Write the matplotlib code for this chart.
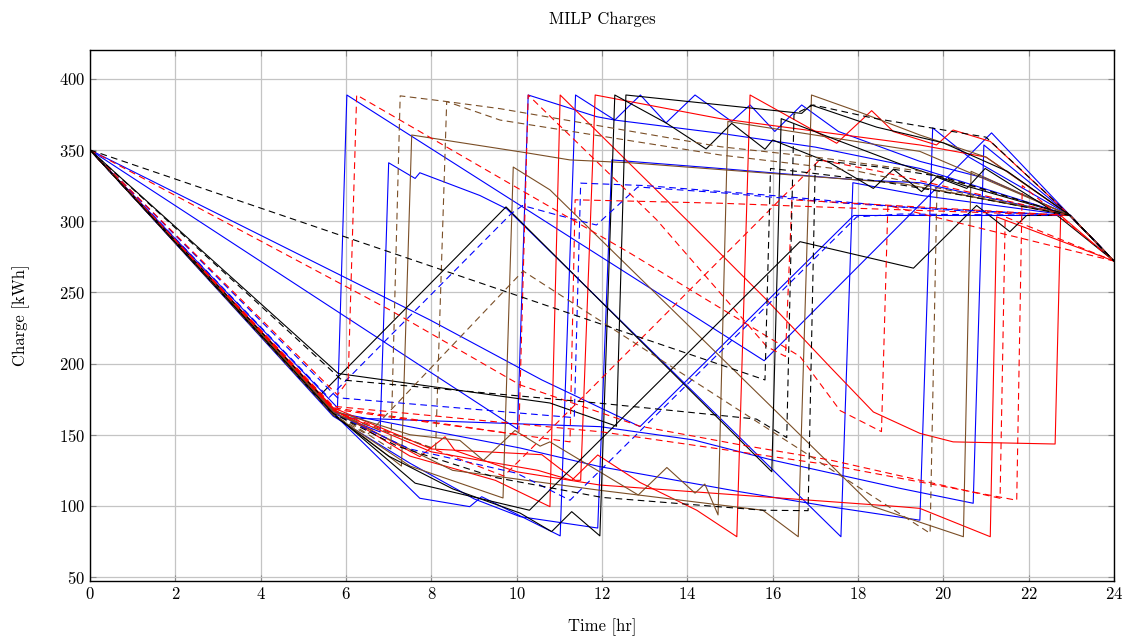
import matplotlib
matplotlib.use("Agg")
import matplotlib.pyplot as plt

plt.rcParams["font.family"] = "serif"
plt.rcParams["font.serif"] = ["cmr10", "DejaVu Serif"]
plt.rcParams["mathtext.fontset"] = "cm"
plt.rcParams["axes.formatter.use_mathtext"] = True

# charge profiles per bus: (time [hr], charge [kWh])
blue_1 = [(0, 350), (5.8, 169), (6.02, 388.6), (15.8, 202), (21.13, 362), (22.97, 304), (24, 272)]
blue_2 = [(0, 350), (5.7, 165), (6.8, 152), (7.0, 341), (7.62, 330), (7.73, 334), (9.14, 318),
          (9.77, 308.6), (17.6, 78.4), (17.88, 327), (19.5, 318), (22.97, 304), (24, 272)]
blue_3 = [(0, 350), (5.7, 165), (7.73, 105.4), (8.9, 99.5), (9.18, 106.5), (11.02, 79), (11.38, 388.6),
          (12.3, 371), (14.77, 361.7), (17.0, 352), (19.45, 337), (22.97, 304), (24, 272)]
blue_4 = [(0, 350), (10.02, 154), (10.27, 388.6), (11.87, 373.4), (12.3, 371), (12.9, 388.6), (13.5, 369),
          (14.18, 388.6), (15.04, 370), (15.47, 381.6), (16.05, 363), (16.68, 381.6), (17.54, 363),
          (19.45, 342), (21.0, 330), (22.97, 304), (24, 272)]
blue_5 = [(0, 350), (5.7, 163), (7.5, 130), (9.0, 105), (10.08, 92.5), (11.9, 84.5), (12.23, 343),
          (14.77, 337), (17.97, 329), (19.45, 327), (22.97, 304), (24, 272)]
blue_6 = [(0, 350), (7.97, 230.6), (10.59, 188.5), (12.89, 155.7), (17.9, 304), (22.97, 304), (24, 272)]
blue_7 = [(0, 350), (5.7, 166), (10.08, 140.7), (11.95, 127.6), (15.23, 110), (17.34, 99.5), (19.45, 90),
          (19.75, 365.5), (20.6, 345), (22.97, 304), (24, 272)]
blue_8 = [(0, 350), (5.9, 162), (11.95, 155.7), (14.14, 146.4), (15.98, 132.3), (18.98, 112.4),
          (20.7, 101.9), (20.95, 353.5), (22.97, 304), (24, 272)]

red_1 = [(0, 350), (5.7, 168), (7.5, 135), (9.5, 118), (10.78, 99.5), (11.02, 388.6), (13.98, 301),
         (15.86, 244.7), (17.34, 197.8), (18.36, 166), (19.45, 151), (20.23, 145), (22.62, 143.5),
         (22.75, 304), (24, 272)]
red_2 = [(0, 350), (5.7, 169), (8.0, 140), (10.59, 136), (11.37, 118), (11.5, 118), (11.84, 388.6),
         (14.77, 372), (19.45, 353.5), (21.0, 345), (22.97, 304), (24, 272)]
red_3 = [(0, 350), (5.7, 167), (8.0, 138), (10.5, 125), (11.29, 118), (11.9, 135.8), (12.89, 116.5),
         (14.22, 97), (15.16, 78.4), (15.47, 388.6), (17.5, 354.7), (18.32, 377.6), (18.83, 362.9),
         (19.84, 353.5), (20.23, 364), (21.1, 356), (22.97, 304), (24, 272)]
red_4 = [(0, 350), (5.7, 168), (7.73, 134.6), (8.32, 148.6), (8.55, 139), (10.0, 124), (11.95, 114.7),
         (18.98, 99.5), (19.45, 98.3), (21.1, 78.4), (21.25, 303), (24, 272)]

brown_1 = [(0, 350), (5.7, 165), (7.3, 128), (7.54, 360.5), (10.23, 348), (11.25, 343), (12.66, 341),
           (18.98, 326.7), (22.97, 304), (24, 272)]
brown_2 = [(0, 350), (5.7, 164), (7.5, 128), (9.68, 105.6), (9.92, 338), (10.78, 322), (18.36, 99.5),
           (20.47, 78.4), (20.65, 335), (22.97, 304), (24, 272)]
brown_3 = [(0, 350), (5.7, 166), (8.5, 125), (11.95, 111), (15.77, 97), (16.6, 78.4), (16.91, 388.6),
           (18.0, 377), (19.45, 360.5), (21.0, 345), (22.97, 304), (24, 272)]
brown_4 = [(0, 350), (5.7, 167), (7.5, 150), (8.67, 146), (9.22, 132), (9.96, 153), (10.55, 142),
           (10.78, 145), (12.85, 107.7), (13.52, 127), (14.18, 109), (14.41, 115.4), (14.72, 93.7),
           (14.95, 370), (19.45, 349), (22.97, 304), (24, 272)]

black_1 = [(0, 350), (5.4, 178), (9.75, 310), (15.98, 124), (16.2, 372), (17.5, 357), (19.0, 340),
           (20.5, 325), (22.97, 304), (24, 272)]
black_2 = [(0, 350), (5.7, 165), (7.62, 116), (10.3, 97), (16.64, 285.6), (19.3, 267), (20.78, 311),
           (21.56, 292.6), (21.95, 304), (22.97, 304), (24, 272)]
black_3 = [(0, 350), (5.7, 164), (7.0, 135), (8.5, 112), (10.08, 95), (10.82, 82), (11.29, 96),
           (11.95, 79), (12.3, 388.6), (13.5, 369), (14.44, 350.7), (15.04, 368.7), (15.82, 350.5),
           (16.0, 357), (17.34, 341), (18.36, 323), (18.83, 336.4), (19.49, 320.7), (19.84, 331),
           (20.55, 323), (20.98, 337), (22.42, 310), (24, 272)]
black_4 = [(0, 350), (5.82, 193), (10.78, 172.3), (12.34, 156), (12.56, 388.6), (16.68, 375.7),
           (16.9, 381.6), (18.44, 366), (20.0, 355), (21.5, 335), (22.97, 304), (24, 272)]

blue_d1 = [(0, 350), (5.6, 176), (9.88, 305.5), (10.14, 311), (10.94, 304.4), (11.87, 297.3),
           (12.84, 324), (14.77, 320), (17.5, 313), (20.0, 308), (22.97, 304), (24, 272)]
blue_d2 = [(0, 350), (5.8, 176), (11.35, 162), (11.5, 326.7), (13.0, 325), (16.0, 318), (19.0, 310),
           (22.97, 304), (24, 272)]
blue_d3 = [(0, 350), (5.7, 165), (7.5, 140), (10.0, 123), (11.25, 104), (17.97, 303), (19.0, 305),
           (22.97, 304), (24, 272)]

red_d1 = [(0, 350), (5.8, 178), (6.05, 188), (6.25, 388.6), (12.66, 277.5), (16.64, 205), (17.58, 167),
          (18.55, 152.2), (18.7, 311), (24, 272)]
red_d2 = [(0, 350), (7.03, 237.6), (10.08, 185), (12.89, 156), (15.23, 143), (17.34, 132.3),
          (21.33, 105.4), (21.45, 303), (24, 272)]
red_d3 = [(0, 350), (5.7, 170), (12.0, 152), (17.34, 128.8), (21.72, 104), (21.85, 325), (24, 272)]
red_d4 = [(0, 350), (5.7, 168), (11.25, 145), (11.37, 315), (14.77, 312.6), (18.0, 309), (22.97, 304),
          (24, 272)]
red_d5 = [(0, 350), (5.7, 167), (9.7, 121), (17.1, 343), (18.5, 335), (22.97, 304), (24, 272)]
red_d6 = [(0, 350), (5.7, 169), (10.05, 150), (10.27, 388.6), (13.28, 301), (15.86, 212), (16.3, 205),
          (16.45, 315), (22.97, 304), (24, 272)]

brown_d1 = [(0, 350), (5.7, 166), (7.05, 140), (7.27, 388), (8.36, 384), (9.61, 379), (14.77, 352.3),
            (17.0, 345), (19.5, 335), (22.97, 304), (24, 272)]
brown_d2 = [(0, 350), (5.7, 165), (8.1, 140), (8.36, 384), (9.61, 371), (14.77, 346.5), (18.0, 335),
            (22.97, 304), (24, 272)]
brown_d3 = [(0, 350), (5.7, 164), (6.5, 150), (10.15, 265), (19.69, 80.8), (19.85, 322), (22.97, 304),
            (24, 272)]

black_d1 = [(0, 350), (15.82, 188.5), (15.95, 337), (16.56, 335), (18.5, 328), (20.5, 318), (22.97, 304),
            (24, 272)]
black_d2 = [(0, 350), (5.9, 188.5), (12.0, 172), (15.62, 161), (16.33, 148), (16.5, 375), (16.95, 381.6),
            (18.35, 372.4), (21.0, 359), (22.97, 304), (24, 272)]
black_d3 = [(0, 350), (5.7, 165), (7.2, 142), (9.5, 120), (12.0, 106), (15.77, 97), (16.83, 96.7),
            (17.0, 343), (18.5, 338), (20.0, 331), (22.97, 304), (24, 272)]

BLUE = "#0000ff"
RED = "#ff0000"
BROWN = "#7a4e26"
BLACK = "#000000"

solid = [(blue_1, BLUE), (blue_2, BLUE), (blue_3, BLUE), (blue_4, BLUE), (blue_5, BLUE),
         (blue_6, BLUE), (blue_7, BLUE), (blue_8, BLUE),
         (red_1, RED), (red_2, RED), (red_3, RED), (red_4, RED),
         (brown_1, BROWN), (brown_2, BROWN), (brown_3, BROWN), (brown_4, BROWN),
         (black_1, BLACK), (black_2, BLACK), (black_3, BLACK), (black_4, BLACK)]
dashed = [(blue_d1, BLUE), (blue_d2, BLUE), (blue_d3, BLUE),
          (red_d1, RED), (red_d2, RED), (red_d3, RED), (red_d4, RED), (red_d5, RED), (red_d6, RED),
          (brown_d1, BROWN), (brown_d2, BROWN), (brown_d3, BROWN),
          (black_d1, BLACK), (black_d2, BLACK), (black_d3, BLACK)]

fig = plt.figure(figsize=(11.32, 6.43), dpi=100)
ax = fig.add_axes([90 / 1132, 1 - 581 / 643, 1024 / 1132, 531 / 643])

for series, color in solid:
    t, c = zip(*series)
    ax.plot(t, c, color=color, lw=0.8)
for series, color in dashed:
    t, c = zip(*series)
    ax.plot(t, c, color=color, lw=0.8, dashes=(6, 4))

ax.set_xlim(0, 24)
ax.set_ylim(47.3, 420.2)
ax.set_xticks(range(0, 25, 2))
ax.set_yticks(range(50, 401, 50))
ax.grid(True, color="#c4c4c4", lw=0.9)
ax.set_axisbelow(True)
ax.tick_params(direction="in", top=True, right=True, length=4, labelsize=12, color="#888888")
for s in ax.spines.values():
    s.set_linewidth(1.0)

ax.set_title("MILP Charges", fontsize=12, pad=19)
ax.set_xlabel("Time [hr]", fontsize=12, labelpad=12)
ax.set_ylabel("Charge [kWh]", fontsize=12, labelpad=21)

fig.savefig("out.png", dpi=100)
